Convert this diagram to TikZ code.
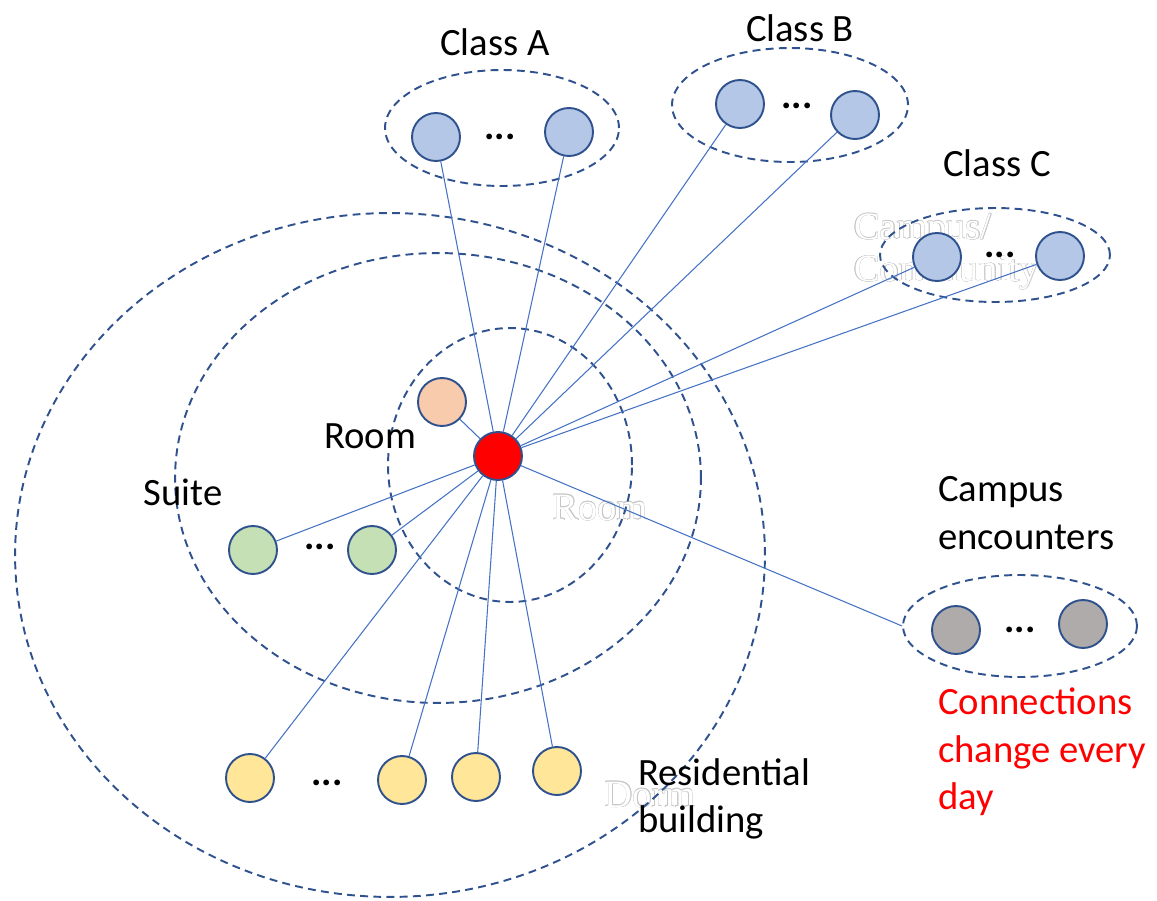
\documentclass[tikz,border=0pt]{standalone}
\usepackage{fontspec}
\setmainfont{Carlito}
\newfontfamily\ghostfont{Liberation Serif}
\usepackage{contour}
\contourlength{0.25pt}
\contournumber{8}
\usetikzlibrary{shapes.geometric}
\definecolor{ringblue}{HTML}{2F528F}
\definecolor{linkblue}{HTML}{4472C4}
\definecolor{classfill}{HTML}{B4C7E7}
\definecolor{suitefill}{HTML}{C5E0B4}
\definecolor{roomfill}{HTML}{F8CBAD}
\definecolor{dormfill}{HTML}{FFE699}
\definecolor{campusfill}{HTML}{AFABAB}
\begin{document}
\begin{tikzpicture}
[x=0.02cm,y=-0.02cm,every node/.style={font=\fontsize{22}{27}\selectfont},
 ring/.style={ellipse,draw=ringblue,line width=1.1pt,dash pattern=on 4.5pt off 3pt,inner sep=0pt},
 who/.style={circle,draw=ringblue,line width=1.1pt,minimum size=0.96cm,inner sep=0pt},
 link/.style={linkblue,line width=0.6pt},
 ghost/.style={font=\ghostfont\fontsize{22}{24}\selectfont,text=white,align=left}]
\useasboundingbox (0,0) rectangle (1157,900);
% faint labels
\node[ghost,anchor=west] (gcc) at (848,252) {\contour{gray!45}{Campus/}\\\contour{gray!45}{Community}};
\node[ghost] (groom) at (600,508) {\contour{gray!45}{Room}};
\node[ghost] (gdorm) at (650,795) {\contour{gray!45}{Dorm}};
% rings
\node[ring,minimum width=15cm,minimum height=13.68cm] (dorm) at (390,555) {};
\node[ring,minimum width=10.52cm,minimum height=9cm] (suite) at (438,478) {};
\node[ring,minimum width=4.88cm,minimum height=5.48cm] (room) at (510,465) {};
\node[ring,minimum width=4.68cm,minimum height=2.32cm] (clsA) at (502,128) {};
\node[ring,minimum width=4.72cm,minimum height=2.28cm] (clsB) at (790,105) {};
\node[ring,minimum width=4.6cm,minimum height=1.88cm] (clsC) at (995,255) {};
\node[ring,minimum width=4.68cm,minimum height=2.04cm] (enc) at (1020,626) {};
% people
\node[who,fill=red] (me) at (498,456) {};
\node[who,fill=roomfill] (peer) at (442,402) {};
\node[who,fill=classfill] (ca1) at (436,137) {};
\node[who,fill=classfill] (ca2) at (569,132) {};
\node[who,fill=classfill] (cb1) at (740,104) {};
\node[who,fill=classfill] (cb2) at (855,115) {};
\node[who,fill=classfill] (cc1) at (937,257) {};
\node[who,fill=classfill] (cc2) at (1060,256) {};
\node[who,fill=suitefill] (st1) at (253,550) {};
\node[who,fill=suitefill] (st2) at (372,550) {};
\node[who,fill=dormfill] (rb1) at (250,778) {};
\node[who,fill=dormfill] (rb2) at (402,780) {};
\node[who,fill=dormfill] (rb3) at (476,777) {};
\node[who,fill=dormfill] (rb4) at (557,771) {};
\node[who,fill=campusfill] (ce1) at (956,630) {};
\node[who,fill=campusfill] (ce2) at (1083,624) {};
% dots
\node (dA) at (500,137) {\textbf{...}};
\node (dB) at (797,106) {\textbf{...}};
\node (dC) at (1000,255) {\textbf{...}};
\node (dS) at (320,547) {\textbf{...}};
\node (dR) at (327,783) {\textbf{...}};
\node (dE) at (1020,630) {\textbf{...}};
% labels
\node (lA) at (495,42) {Class A};
\node (lB) at (800,28) {Class B};
\node (lC) at (997,163) {Class C};
\node (lroom) at (370,436) {Room};
\node (lsuite) at (183,492) {Suite};
\node[anchor=west,align=left] (ldorm) at (632,799) {Residential\\building};
\node[anchor=west,align=left] (lenc) at (932,513) {Campus\\encounters};
\node[anchor=west,align=left,text=red] (lnote) at (932,752) {Connections\\change every\\day};
% links
\foreach \to in {peer,ca1,ca2,cb1,cb2,cc1,cc2,st1,st2,rb1,rb2,rb3,rb4}
\draw[link] (me) -- (\to);
\draw[link] (me) -- (enc.west);
\end{tikzpicture}
\end{document}
